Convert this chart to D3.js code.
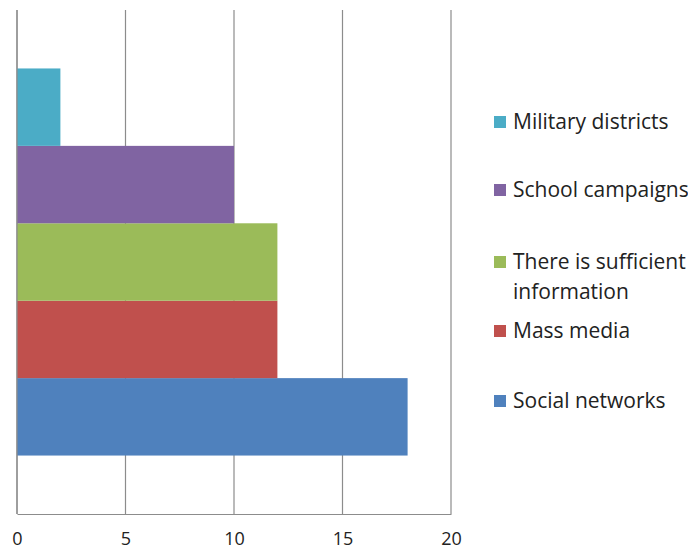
<!DOCTYPE html>
<html>
<head>
<meta charset="utf-8">
<script src="https://cdn.jsdelivr.net/npm/d3@7"></script>
<style>
  html, body { margin: 0; padding: 0; background: #fff; }
  text { font-family: "Open Sans", Lato, sans-serif; fill: #222; }
</style>
</head>
<body>
<svg id="chart" width="688" height="551"></svg>
<script>
// Data
const seriesNames = ["Social networks", "Mass media", "There is sufficient information", "School campaigns", "Military districts"];
const seriesValues = [18, 12, 12, 10, 2];
const seriesColors = ["#4F81BD", "#C0504D", "#9BBB59", "#8064A2", "#4BACC6"];
const xTicks = [0, 5, 10, 15, 20];
const legendLines = [
  ["Military districts"],
  ["School campaigns"],
  ["There is sufficient", "information"],
  ["Mass media"],
  ["Social networks"]
];
const legendColors = ["#4BACC6", "#8064A2", "#9BBB59", "#C0504D", "#4F81BD"];

const svg = d3.select("#chart");
const plot = { left: 17, right: 451, top: 10, bottom: 514 };

const x = d3.scaleLinear().domain([0, 20]).range([plot.left, plot.right]);
const y = d3.scaleBand()
  .domain(seriesNames.slice().reverse())
  .range([plot.top, plot.bottom])
  .paddingInner(0)
  .paddingOuter(0.755);

// Gridlines
svg.append("g")
  .selectAll("line")
  .data(xTicks)
  .join("line")
  .attr("x1", d => x(d)).attr("x2", d => x(d))
  .attr("y1", plot.top).attr("y2", plot.bottom)
  .attr("stroke", "#8c8c8c").attr("stroke-width", 1.2);

// Bars
svg.append("g")
  .selectAll("rect")
  .data(seriesNames.map((n, i) => ({ name: n, value: seriesValues[i], color: seriesColors[i] })))
  .join("rect")
  .attr("x", x(0))
  .attr("y", d => y(d.name))
  .attr("width", d => x(d.value) - x(0))
  .attr("height", y.bandwidth())
  .attr("fill", d => d.color);

// Axis lines
svg.append("line")
  .attr("x1", plot.left).attr("x2", plot.left)
  .attr("y1", plot.top).attr("y2", plot.bottom)
  .attr("stroke", "#8c8c8c").attr("stroke-width", 1.2);

const xAxis = d3.axisBottom(x).tickValues(xTicks).tickSize(0).tickPadding(18);
const gx = svg.append("g").attr("transform", `translate(0,${plot.bottom})`).call(xAxis);
gx.select(".domain").attr("stroke", "#8c8c8c").attr("stroke-width", 1.2);
gx.selectAll("text").style("font-size", "18px").style("font-family", "'Open Sans', Lato, sans-serif").attr("fill", "#222");

// Legend
const legendY = [122, 190, 262, 331, 401];
const lg = svg.append("g");
legendLines.forEach((lines, i) => {
  const g = lg.append("g");
  g.append("rect")
    .attr("x", 494).attr("y", legendY[i] - 6)
    .attr("width", 12).attr("height", 12)
    .attr("fill", legendColors[i]);
  lines.forEach((t, j) => {
    g.append("text")
      .attr("x", 513).attr("y", legendY[i] + j * 30)
      .attr("dy", "0.35em")
      .style("font-size", "21px")
      .text(t);
  });
});
</script>
</body>
</html>
